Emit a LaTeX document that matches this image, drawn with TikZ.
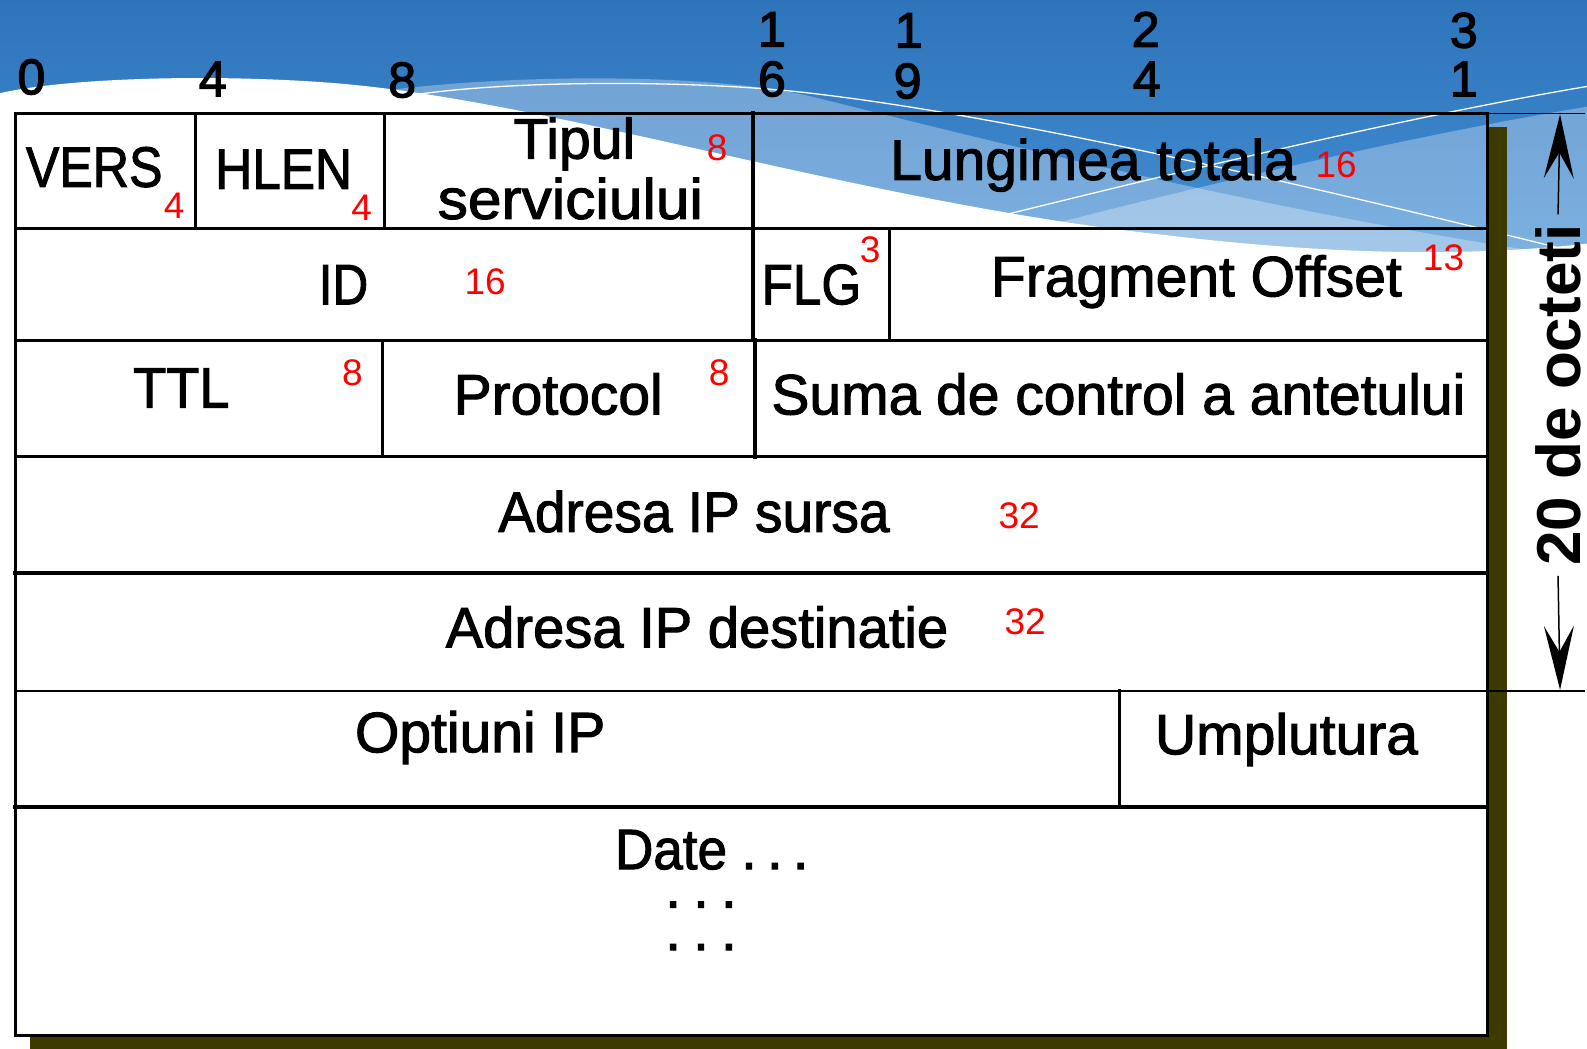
\documentclass[tikz,border=0pt]{standalone}
\usepackage{fontspec}
\setmainfont{Liberation Sans}
\newfontfamily\heavy{Liberation Sans}[FakeBold=1.8]
\newfontfamily\heavyb{Liberation Sans}[FakeBold=2.5]
\usetikzlibrary{arrows.meta}
\definecolor{bgtop}{HTML}{2E74BA}
\definecolor{bgmid}{HTML}{4A97DD}
\definecolor{shadowc}{HTML}{3D3A00}
\newcommand{\sx}[2]{\scalebox{#1}[1]{#2}}
\begin{document}
\begin{tikzpicture}[x=1.013pt,y=-1.013pt,
  lbl/.style={font=\heavy\fontsize{57}{60}\selectfont, inner sep=0pt, anchor=center},
  num/.style={text=red, font=\fontsize{37}{40}\selectfont, inner sep=0pt, anchor=center},
  bit/.style={font=\heavyb\fontsize{50}{52}\selectfont, inner sep=0pt, anchor=center},
  gridline/.style={line width=3pt, line cap=rect},
  band/.style={fill=white, fill opacity=0.3},
  wline/.style={white, line width=1.3pt},
  dimline/.style={line width=1.5pt},
  dimarrow/.style={line width=1.5pt, -{Stealth[length=64pt, width=30pt, inset=26pt]}}]
\useasboundingbox (0,0) rectangle (1566.6,1034.55);
% background
\fill[top color=bgtop, bottom color=bgmid] (0,0) rectangle (1587,330);
\fill[band] (360,92) .. controls (500,72) and (700,72) .. (800,95) .. controls (1000,145) and (1300,220) .. (1587,258) -- (1587,330) -- (360,330) -- cycle;
\fill[band] (880,262) .. controls (1100,205) and (1350,140) .. (1587,102) -- (1587,330) -- (880,330) -- cycle;
\fill[white] (0,92) .. controls (60,78) and (200,72) .. (330,82) .. controls (550,100) and (850,200) .. (1150,232) .. controls (1300,250) and (1450,256) .. (1587,238) -- (1587,1048) -- (0,1048) -- cycle;
\draw[wline] (413,93) .. controls (520,78) and (700,80) .. (800,92) .. controls (1000,115) and (1300,185) .. (1540,245);
\draw[wline] (980,215) .. controls (1150,173) and (1400,112) .. (1587,82);
% shadow
\fill[shadowc] (1470,125) rectangle (1488,1036);
\fill[shadowc] (30,1022) rectangle (1488,1036);
% table
\draw[gridline] (15,112) rectangle (1468,1022);
\draw[gridline] (15,226) -- (1466,226);
\draw[gridline] (15,336) -- (1466,336);
\draw[gridline] (15,451) -- (1466,451);
\draw[gridline, line width=4pt] (15,566) -- (1466,566);
\draw[gridline, line width=2.5pt] (15,682) -- (1466,682);
\draw[gridline, line width=4pt] (15,797) -- (1466,797);
\draw[gridline] (193,112) -- (193,226);
\draw[gridline] (380,112) -- (380,226);
\draw[gridline, line width=4pt] (743,112) -- (743,336);
\draw[gridline] (878,226) -- (878,336);
\draw[gridline] (378,336) -- (378,451);
\draw[gridline, line width=4pt] (745,336) -- (745,451);
\draw[gridline] (1105,682) -- (1105,797);
% bit numbers
\node[bit] (b0) at (31,76) {0};
\node[bit] (b4) at (210,78) {4};
\node[bit] (b8) at (397,79) {8};
\node[bit] (b16a) at (762,29) {1};
\node[bit] (b16b) at (762,78) {6};
\node[bit] (b19a) at (897,30) {1};
\node[bit] (b19b) at (896,80) {9};
\node[bit] (b24a) at (1131,29) {2};
\node[bit] (b24b) at (1132,78) {4};
\node[bit] (b31a) at (1445,30) {3};
\node[bit] (b31b) at (1445,78) {1};
% labels
\node[lbl] (vers) at (93,165) {\sx{0.88}{VERS}};
\node[num] (nvers) at (172,203) {4};
\node[lbl] (hlen) at (280,167) {\sx{0.9}{HLEN}};
\node[num] (nhlen) at (357,205) {4};
\node[lbl] (tip1) at (567,142) {Tipul};
\node[lbl] (tip2) at (563,196) {\sx{1.06}{serviciului}};
\node[num] (ntip) at (708,146) {8};
\node[lbl] (lung) at (1079,163) {Lungimea totala};
\node[num] (nlung) at (1319,163) {16};
\node[lbl] (id) at (339,281) {\sx{0.87}{ID}};
\node[num] (nid) at (479,278) {16};
\node[lbl] (flg) at (801,281) {\sx{0.9}{FLG}};
\node[num] (nflg) at (859,247) {3};
\node[lbl] (frag) at (1181,278) {Fragment Offset};
\node[num] (nfrag) at (1425,254) {13};
\node[lbl] (ttl) at (179,383) {\sx{0.95}{TTL}};
\node[num] (nttl) at (348,368) {8};
\node[lbl] (prot) at (551,389) {Protocol};
\node[num] (nprot) at (710,368) {8};
\node[lbl] (suma) at (1104,389) {Suma de control a antetului};
\node[lbl] (src) at (685,505) {\sx{0.965}{Adresa IP sursa}};
\node[num] (nsrc) at (1006,509) {32};
\node[lbl] (dst) at (688,619) {\sx{0.985}{Adresa IP destinatie}};
\node[num] (ndst) at (1012,614) {32};
\node[lbl] (opt) at (474,728) {Optiuni IP};
\node[lbl] (ump) at (1270,730) {Umplutura};
\node[lbl, anchor=base west] (date) at (607,858) {\sx{0.93}{Date}\hspace{14pt}.\hspace{10pt}.\hspace{10pt}.};
\node[lbl, anchor=base] (dots1) at (692,896) {.\hspace{12pt}.\hspace{12pt}.};
\node[lbl, anchor=base] (dots2) at (692,938) {.\hspace{12pt}.\hspace{12pt}.};
% dimension
\coordinate (tl) at (1470,112);
\coordinate (tr) at (1565,112);
\coordinate (bl) at (1468,682);
\coordinate (br) at (1565,682);
\coordinate (dt) at (1540,113);
\coordinate (db) at (1540,681);
\draw[dimline] (tl) -- (tr);
\draw[dimline] (bl) -- (br);
\node[rotate=90, font=\bfseries\fontsize{62}{64}\selectfont, inner xsep=10pt, inner ysep=0pt] (oct) at (1538,390) {20 de octeti};
\draw[dimarrow] (oct.east) -- (dt);
\draw[dimarrow] (oct.west) -- (db);
\end{tikzpicture}
\end{document}
